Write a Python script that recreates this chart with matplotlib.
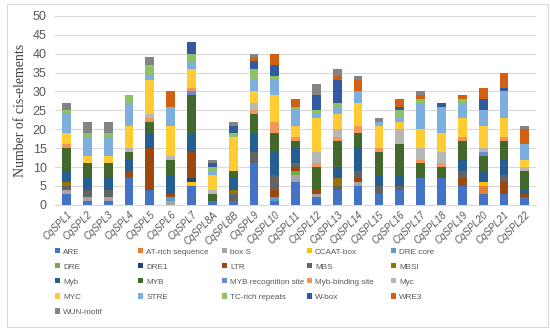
import numpy as np
import matplotlib
matplotlib.use("Agg")
import matplotlib.pyplot as plt
from matplotlib.patches import Rectangle

genes = ["CqSPL1", "CqSPL2", "CqSPL3", "CqSPL4", "CqSPL5", "CqSPL6", "CqSPL7",
         "CqSPL8A", "CqSPL8B", "CqSPL9", "CqSPL10", "CqSPL11", "CqSPL12", "CqSPL13",
         "CqSPL14", "CqSPL15", "CqSPL16", "CqSPL17", "CqSPL18", "CqSPL19", "CqSPL20",
         "CqSPL21", "CqSPL22"]

# counts per gene, same order as genes
ARE        = [3, 1, 1, 7, 4, 0, 5, 1, 1, 11, 1, 6, 2, 4, 5, 3, 4, 7, 7, 5, 3, 3, 2]
AT_rich    = [0, 0, 0, 0, 0, 0, 0, 0, 0, 0, 0, 0, 0, 0, 0, 0, 0, 0, 0, 0, 2, 0, 0]
box_S      = [1, 1, 1, 0, 0, 1, 0, 0, 0, 0, 0, 2, 1, 0, 1, 0, 0, 0, 0, 0, 0, 0, 0]
CCAAT_box  = [0, 0, 0, 0, 0, 0, 1, 0, 0, 0, 0, 0, 0, 0, 0, 0, 0, 0, 0, 0, 1, 0, 0]
DRE_core   = [0, 0, 0, 0, 0, 1, 0, 0, 0, 0, 1, 0, 0, 0, 0, 0, 0, 0, 0, 0, 0, 0, 0]
DRE        = [0, 0, 0, 0, 0, 0, 0, 0, 0, 0, 0, 1, 0, 0, 0, 0, 0, 0, 0, 0, 0, 0, 0]
DRE1       = [0, 0, 0, 0, 0, 0, 1, 0, 0, 0, 0, 0, 0, 0, 0, 0, 0, 0, 0, 0, 0, 0, 0]
LTR        = [0, 0, 0, 2, 11, 1, 7, 0, 0, 0, 2, 1, 1, 0, 1, 0, 0, 0, 0, 2, 0, 3, 1]
MBS        = [1, 2, 2, 0, 0, 0, 0, 0, 2, 3, 4, 1, 0, 1, 2, 2, 1, 0, 0, 2, 0, 2, 0]
MBSI       = [1, 0, 0, 0, 0, 0, 0, 0, 1, 0, 0, 0, 0, 2, 0, 0, 0, 0, 0, 0, 0, 0, 0]
Myb        = [3, 3, 3, 3, 4, 5, 5, 0, 3, 5, 6, 4, 0, 3, 6, 3, 3, 0, 0, 3, 3, 4, 1]
MYB        = [6, 4, 4, 2, 3, 4, 10, 2, 2, 5, 5, 2, 6, 7, 4, 6, 8, 4, 3, 5, 4, 5, 5]
MYB_recog  = [0, 0, 0, 0, 0, 0, 1, 0, 0, 0, 0, 0, 0, 0, 0, 0, 0, 0, 0, 0, 1, 0, 0]
Myb_bind   = [1, 0, 0, 0, 1, 0, 1, 0, 0, 1, 3, 1, 1, 1, 2, 1, 0, 1, 1, 1, 0, 1, 0]
Myc        = [0, 0, 0, 1, 1, 1, 0, 1, 0, 2, 0, 0, 3, 2, 0, 0, 4, 3, 3, 0, 1, 0, 1]
MYC        = [3, 2, 2, 6, 9, 8, 5, 4, 9, 3, 7, 3, 9, 4, 6, 6, 2, 5, 5, 5, 6, 5, 2]
STRE       = [5, 5, 5, 6, 1, 5, 2, 1, 0, 3, 4, 4, 1, 2, 3, 1, 1, 7, 7, 4, 4, 7, 4]
TC_rich    = [1, 1, 1, 2, 3, 0, 2, 1, 1, 3, 1, 1, 1, 1, 0, 0, 2, 1, 0, 1, 0, 0, 0]
W_box      = [0, 0, 0, 0, 0, 0, 3, 1, 2, 2, 3, 0, 4, 6, 0, 0, 1, 0, 1, 0, 3, 1, 0]
WRE3       = [0, 0, 0, 0, 0, 4, 0, 0, 0, 1, 3, 2, 0, 1, 3, 0, 2, 1, 0, 1, 3, 4, 4]
WUN_motif  = [2, 3, 3, 0, 2, 0, 0, 1, 1, 1, 0, 0, 3, 2, 1, 1, 0, 1, 0, 0, 0, 0, 1]

series = [
    ("ARE", ARE, "#4472C4"),
    ("AT-rich sequence", AT_rich, "#ED7D31"),
    ("box S", box_S, "#A5A5A5"),
    ("CCAAT-box", CCAAT_box, "#FFC000"),
    ("DRE core", DRE_core, "#5B9BD5"),
    ("DRE", DRE, "#70AD47"),
    ("DRE1", DRE1, "#264478"),
    ("LTR", LTR, "#9E480E"),
    ("MBS", MBS, "#636363"),
    ("MBSI", MBSI, "#997300"),
    ("Myb", Myb, "#255E91"),
    ("MYB", MYB, "#43682B"),
    ("MYB recognition site", MYB_recog, "#698ED0"),
    ("Myb-binding site", Myb_bind, "#F1975A"),
    ("Myc", Myc, "#B7B7B7"),
    ("MYC", MYC, "#FFCD33"),
    ("STRE", STRE, "#7CAFDD"),
    ("TC-rich repeats", TC_rich, "#8CC168"),
    ("W-box", W_box, "#335AA1"),
    ("WRE3", WRE3, "#D26012"),
    ("WUN-motif", WUN_motif, "#848484"),
]

fig = plt.figure(figsize=(5.5, 3.31), dpi=100)
fig.patches.append(Rectangle((0.012, 0.012), 0.985, 0.975, transform=fig.transFigure,
                             fill=False, edgecolor="#D9D9D9", linewidth=0.8))
ax = fig.add_axes([0.1, 0.381, 0.875, 0.571])

x = np.arange(len(genes))
bottom = np.zeros(len(genes))
handles = []
for name, vals, col in series:
    h = ax.bar(x, vals, 0.42, bottom=bottom, color=col, label=name, zorder=3)
    bottom += np.array(vals)
    handles.append(h)

ax.set_xlim(-0.55, len(genes) - 0.45)
ax.set_ylim(0, 50)
ax.set_yticks(range(0, 51, 5))
ax.grid(axis="y", color="#D9D9D9", linewidth=0.8, zorder=0)
for s in ["top", "right", "left"]:
    ax.spines[s].set_visible(False)
ax.spines["bottom"].set_color("#D9D9D9")
ax.tick_params(length=0, colors="#595959")
ax.tick_params(axis="y", labelsize=9, pad=6)
ax.set_xticks(x)
ax.set_xticklabels(genes, rotation=45, ha="right", rotation_mode="anchor",
                   fontsize=7, style="italic", family="Liberation Sans")
for t in ax.get_yticklabels():
    t.set_family("Liberation Sans")
ax.set_ylabel("Number of cis-elements", family="Liberation Serif", fontsize=10,
              color="#404040", labelpad=4)

# legend laid out row by row in 5 equal-width columns
ncol = 5
col_x = [0.094, 0.245, 0.398, 0.552, 0.705]
for c in range(ncol):
    idx = list(range(c, len(series), ncol))
    leg = fig.legend(handles=[handles[i] for i in idx], loc="upper left",
                     bbox_to_anchor=(col_x[c], 0.26), ncol=1, frameon=False,
                     handlelength=0.6, handleheight=0.6, handletextpad=0.4,
                     labelspacing=0.92, borderaxespad=0,
                     prop={"family": "Liberation Sans", "size": 5.9})
    for t in leg.get_texts():
        t.set_color("#595959")

fig.savefig("out.png", dpi=100)
